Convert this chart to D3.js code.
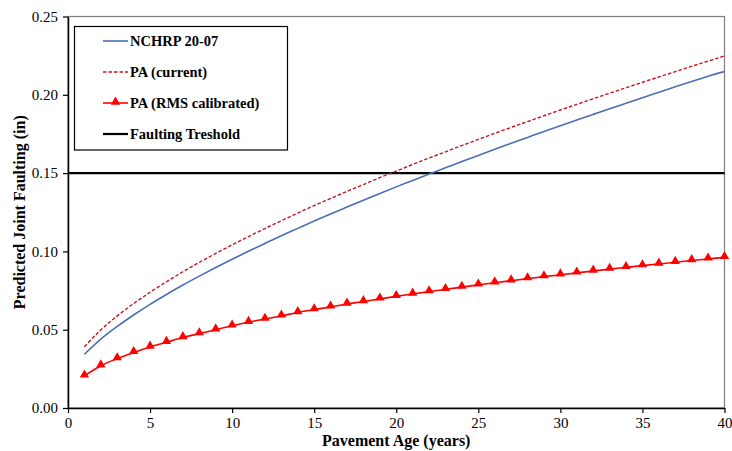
<!DOCTYPE html>
<html>
<head>
<meta charset="utf-8">
<script src="https://cdn.jsdelivr.net/npm/d3@7"></script>
<style>
  html, body { margin: 0; padding: 0; background: #fff; }
  svg { display: block; }
  text { font-family: "Liberation Serif", "Times New Roman", serif; fill: #000; }
</style>
</head>
<body>
<svg id="chart" width="732" height="451"></svg>
<script>
// Pavement age in years
const years = d3.range(1, 41);

// Predicted joint faulting (in), one value per year
const nchrp = [0.0343, 0.0440, 0.0521, 0.0594, 0.0662, 0.0725, 0.0785, 0.0842, 0.0897, 0.0950,
               0.1001, 0.1051, 0.1100, 0.1147, 0.1194, 0.1239, 0.1283, 0.1327, 0.1370, 0.1412,
               0.1453, 0.1494, 0.1534, 0.1574, 0.1613, 0.1652, 0.1690, 0.1728, 0.1766, 0.1803,
               0.1839, 0.1875, 0.1911, 0.1946, 0.1981, 0.2016, 0.2051, 0.2085, 0.2119, 0.2148];
const paCurrent = [0.0391, 0.0499, 0.0588, 0.0667, 0.0739, 0.0806, 0.0870, 0.0930, 0.0987, 0.1042,
                   0.1095, 0.1146, 0.1196, 0.1245, 0.1292, 0.1338, 0.1383, 0.1427, 0.1471, 0.1513,
                   0.1555, 0.1596, 0.1636, 0.1676, 0.1715, 0.1754, 0.1792, 0.1829, 0.1866, 0.1903,
                   0.1939, 0.1975, 0.2010, 0.2045, 0.2080, 0.2114, 0.2148, 0.2182, 0.2215, 0.2248];
const paCalibrated = [0.0205, 0.0270, 0.0315, 0.0355, 0.0390, 0.0420, 0.0450, 0.0475, 0.0500, 0.0525,
                      0.0548, 0.0568, 0.0588, 0.0610, 0.0628, 0.0646, 0.0664, 0.0680, 0.0697, 0.0713,
                      0.0728, 0.0743, 0.0758, 0.0772, 0.0786, 0.0800, 0.0813, 0.0826, 0.0839, 0.0851,
                      0.0863, 0.0875, 0.0887, 0.0898, 0.0909, 0.0920, 0.0931, 0.0942, 0.0952, 0.0962];
const threshold = 0.15;

const xTicks = [0, 5, 10, 15, 20, 25, 30, 35, 40];
const yTicks = [0, 0.05, 0.10, 0.15, 0.20, 0.25];
const legendLabels = ["NCHRP 20-07", "PA (current)", "PA (RMS calibrated)", "Faulting Treshold"];

const svg = d3.select("#chart");
const plot = { left: 68, right: 724.5, top: 16.5, bottom: 408 };

const x = d3.scaleLinear().domain([0, 40]).range([plot.left, plot.right]);
const y = d3.scaleLinear().domain([0, 0.25]).range([plot.bottom, plot.top]);

// plot frame (top and right edges in grey)
svg.append("rect")
  .attr("x", plot.left).attr("y", plot.top)
  .attr("width", plot.right - plot.left).attr("height", plot.bottom - plot.top)
  .attr("fill", "none").attr("stroke", "#7f7f7f").attr("stroke-width", 1.2);

// axes
const xAxis = d3.axisBottom(x).tickValues(xTicks).tickFormat(d3.format("d")).tickSize(5).tickSizeOuter(0);
const yAxis = d3.axisLeft(y).tickValues(yTicks).tickFormat(d3.format(".2f")).tickSize(5).tickSizeOuter(0);

const gx = svg.append("g").attr("transform", `translate(0,${plot.bottom})`).call(xAxis);
const gy = svg.append("g").attr("transform", `translate(${plot.left},0)`).call(yAxis);
[gx, gy].forEach(g => {
  g.select(".domain").attr("stroke", "#000").attr("stroke-width", 1.5);
  g.selectAll(".tick line").attr("stroke", "#000").attr("stroke-width", 1.2);
  g.selectAll(".tick text").attr("font-family", "Liberation Serif, Times New Roman, serif")
    .attr("font-size", 15).attr("fill", "#000");
});
gx.selectAll(".tick text").attr("dy", "0.95em").attr("y", 6);
gy.selectAll(".tick text").attr("x", -10);

// axis titles
svg.append("text")
  .attr("x", (plot.left + plot.right) / 2).attr("y", 446)
  .attr("text-anchor", "middle").attr("font-weight", "bold").attr("font-size", 16)
  .text("Pavement Age (years)");
svg.append("text")
  .attr("transform", `translate(25,${(plot.top + plot.bottom) / 2}) rotate(-90)`)
  .attr("text-anchor", "middle").attr("font-weight", "bold").attr("font-size", 16)
  .text("Predicted Joint Faulting (in)");

// series
const line = vals => d3.line()
  .x((d, i) => x(years[i]))
  .y(d => y(d))
  .curve(d3.curveMonotoneX)(vals);

// threshold
svg.append("line")
  .attr("x1", plot.left).attr("x2", plot.right)
  .attr("y1", y(threshold)).attr("y2", y(threshold))
  .attr("stroke", "#000").attr("stroke-width", 2.2);

svg.append("path").attr("d", line(nchrp))
  .attr("fill", "none").attr("stroke", "#4a6fb5").attr("stroke-width", 1.6);

svg.append("path").attr("d", line(paCurrent))
  .attr("fill", "none").attr("stroke", "#c8141e").attr("stroke-width", 1.4)
  .attr("stroke-dasharray", "3.5,2");

svg.append("path").attr("d", line(paCalibrated))
  .attr("fill", "none").attr("stroke", "#ff0000").attr("stroke-width", 1.6);

const tri = d3.symbol().type(d3.symbolTriangle).size(38);
svg.append("g").selectAll("path").data(paCalibrated).join("path")
  .attr("d", tri)
  .attr("transform", (d, i) => `translate(${x(years[i])},${y(d) - 1})`)
  .attr("fill", "#ff0000");

// legend
const lg = svg.append("g");
lg.append("rect")
  .attr("x", 74.5).attr("y", 26.5).attr("width", 213).attr("height", 123.5)
  .attr("fill", "#fff").attr("stroke", "#000").attr("stroke-width", 1.2);

const rowY = [41, 72, 103, 134];
const styles = [
  { stroke: "#4a6fb5", width: 1.6, dash: null, marker: false },
  { stroke: "#c8141e", width: 1.4, dash: "3.5,2", marker: false },
  { stroke: "#ff0000", width: 1.6, dash: null, marker: true },
  { stroke: "#000", width: 2.2, dash: null, marker: false }
];
legendLabels.forEach((label, i) => {
  const s = styles[i];
  lg.append("line")
    .attr("x1", 103).attr("x2", 128).attr("y1", rowY[i]).attr("y2", rowY[i])
    .attr("stroke", s.stroke).attr("stroke-width", s.width)
    .attr("stroke-dasharray", s.dash);
  if (s.marker) {
    lg.append("path").attr("d", tri)
      .attr("transform", `translate(115.5,${rowY[i] - 1})`).attr("fill", "#ff0000");
  }
  lg.append("text")
    .attr("x", 130).attr("y", rowY[i] + 5)
    .attr("font-weight", "bold").attr("font-size", 14.5)
    .text(label);
});
</script>
</body>
</html>
